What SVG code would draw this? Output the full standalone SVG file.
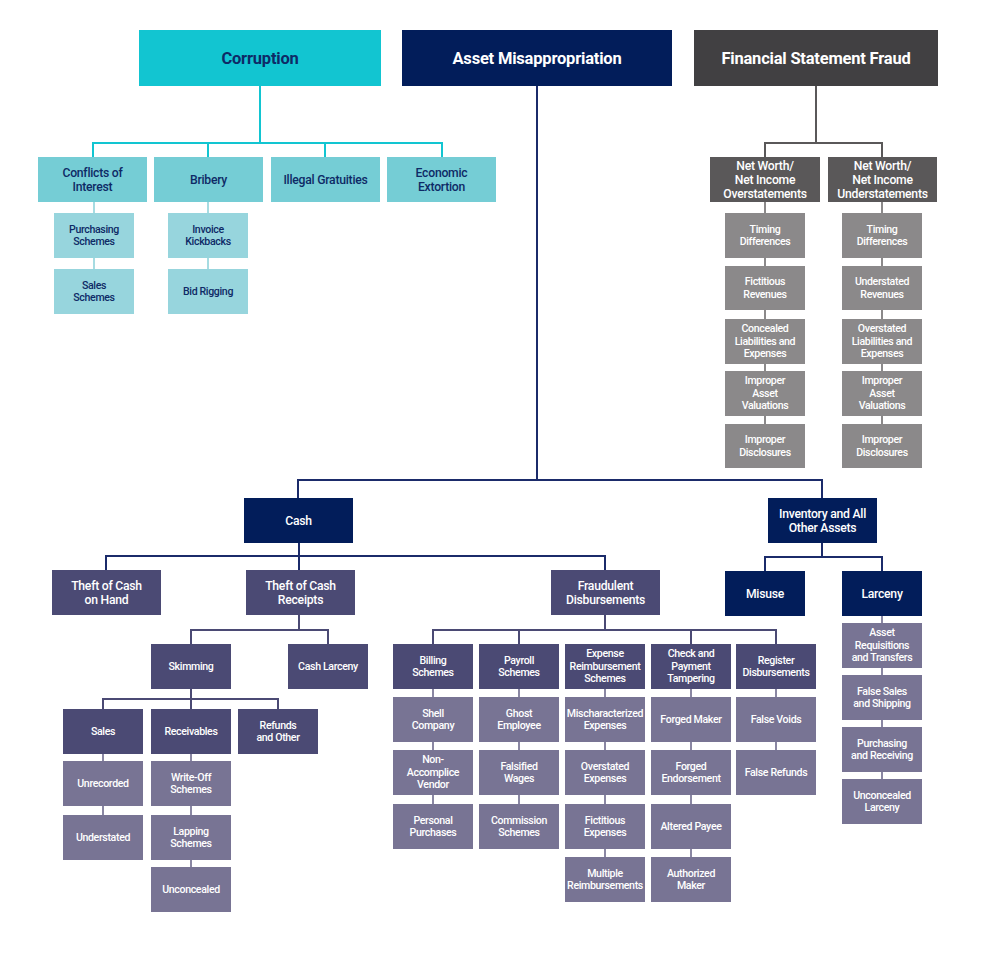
<svg xmlns="http://www.w3.org/2000/svg" width="1002" height="966" viewBox="0 0 1002 966">
<style>
text{font-family:Roboto,"Liberation Sans",sans-serif;text-anchor:middle}
.t{font-size:16.5px;font-weight:700;letter-spacing:-0.2px}
.h{font-size:12.2px;font-weight:500;letter-spacing:-0.25px}
.s{font-size:10.6px;font-weight:500;letter-spacing:-0.35px}
.dk{fill:#0E2A66}
.wh{fill:#ffffff}
.cy{fill:#12C5D1}.tm{fill:#75CDD5}.tl{fill:#97D5DD}
.nv{fill:#021D5A}.fg{fill:#414042}.ng{fill:#5A5859}.sg{fill:#8B898A}
.pd{fill:#4B4A74}.pl{fill:#787494}
.c{fill:none;stroke-width:2}
</style>
<rect width="1002" height="966" fill="#ffffff"/>
<g id="connectors">
<path class="c" stroke="#12C5D1" d="M260 86V143M93 157V143H442V157M208 143V157M325 143V157"/>
<path class="c" stroke="#A6DCE2" d="M94 202V213M94 258V269M208 202V213M208 258V269"/>
<path class="c" stroke="#5A5859" d="M816 86V143M765 157V143H882V157"/>
<path class="c" stroke="#8B898A" d="M765 202V213M765 258V266M765 310V319M765 364V371M765 416V424M882 202V213M882 258V266M882 310V319M882 364V371M882 416V424"/>
<path class="c" stroke="#1B2B6A" d="M537 86V480M298 498V480H822V498M822 543V557M765 571V557H882V571"/>
<path class="c" stroke="#1B2B6A" d="M299 543V570M106 570V556H605V570"/>
<path class="c" stroke="#4B4A74" d="M299 615V630M191 644V630H328V644M191 689V709M103 709V699H278V709M605 615V630M433 644V630H776V644M519 630V644M691 630V644"/>
<path class="c" stroke="#8A87A3" d="M103 754V761M103 806V815M191 754V761M191 806V815M191 860V867M433 689V697M433 742V750M433 795V804M519 689V697M519 742V750M519 795V804M605 689V697M605 742V750M605 795V804M605 849V857M691 689V697M691 742V750M691 795V804M691 849V857M776 689V697M776 742V750M882 616V623M882 668V675M882 720V727M882 772V779"/>
</g>
<g id="corruption"><rect class="cy" x="139" y="30" width="242" height="56"/><text class="t dk" x="260" y="63.5">Corruption</text></g>
<g id="asset-misappropriation"><rect class="nv" x="402" y="30" width="270" height="56"/><text class="t wh" x="537" y="63.5">Asset Misappropriation</text></g>
<g id="financial-statement-fraud"><rect class="fg" x="694" y="30" width="244" height="56"/><text class="t wh" x="816" y="63.5">Financial Statement Fraud</text></g>

<g id="conflicts-of-interest"><rect class="tm" x="38" y="157" width="109" height="45"/><text class="h dk" x="92.5"><tspan x="92.5" y="176.7">Conflicts of</tspan><tspan x="92.5" y="190.7">Interest</tspan></text></g>
<g id="bribery"><rect class="tm" x="154" y="157" width="109" height="45"/><text class="h dk" x="208.5" y="183.7">Bribery</text></g>
<g id="illegal-gratuities"><rect class="tm" x="271" y="157" width="109" height="45"/><text class="h dk" x="325.5" y="183.7">Illegal Gratuities</text></g>
<g id="economic-extortion"><rect class="tm" x="387" y="157" width="109" height="45"/><text class="h dk" x="441.5"><tspan x="441.5" y="176.7">Economic</tspan><tspan x="441.5" y="190.7">Extortion</tspan></text></g>
<g id="purchasing-schemes"><rect class="tl" x="54" y="213" width="80" height="45"/><text class="s dk"><tspan x="94" y="232.7">Purchasing</tspan><tspan x="94" y="245.2">Schemes</tspan></text></g>
<g id="sales-schemes"><rect class="tl" x="54" y="269" width="80" height="45"/><text class="s dk"><tspan x="94" y="288.7">Sales</tspan><tspan x="94" y="301.2">Schemes</tspan></text></g>
<g id="invoice-kickbacks"><rect class="tl" x="168" y="213" width="80" height="45"/><text class="s dk"><tspan x="208" y="232.7">Invoice</tspan><tspan x="208" y="245.2">Kickbacks</tspan></text></g>
<g id="bid-rigging"><rect class="tl" x="168" y="269" width="80" height="45"/><text class="s dk" x="208" y="295.2">Bid Rigging</text></g>

<g id="nw-over"><rect class="ng" x="710" y="157" width="110" height="45"/><text class="h wh"><tspan x="765" y="169.7">Net Worth/</tspan><tspan x="765" y="183.7">Net Income</tspan><tspan x="765" y="197.7">Overstatements</tspan></text></g>
<g id="nw-under"><rect class="ng" x="828" y="157" width="109" height="45"/><text class="h wh"><tspan x="882.5" y="169.7">Net Worth/</tspan><tspan x="882.5" y="183.7">Net Income</tspan><tspan x="882.5" y="197.7">Understatements</tspan></text></g>
<g id="o-timing"><rect class="sg" x="725" y="213" width="80" height="45"/><text class="s wh"><tspan x="765" y="232.7">Timing</tspan><tspan x="765" y="245.2">Differences</tspan></text></g>
<g id="o-fictitious"><rect class="sg" x="725" y="266" width="80" height="44"/><text class="s wh"><tspan x="765" y="285.2">Fictitious</tspan><tspan x="765" y="297.7">Revenues</tspan></text></g>
<g id="o-concealed"><rect class="sg" x="725" y="319" width="80" height="45"/><text class="s wh"><tspan x="765" y="332.4">Concealed</tspan><tspan x="765" y="344.9">Liabilities and</tspan><tspan x="765" y="357.4">Expenses</tspan></text></g>
<g id="o-valuations"><rect class="sg" x="725" y="371" width="80" height="45"/><text class="s wh"><tspan x="765" y="384.4">Improper</tspan><tspan x="765" y="396.9">Asset</tspan><tspan x="765" y="409.4">Valuations</tspan></text></g>
<g id="o-disclosures"><rect class="sg" x="725" y="424" width="80" height="44"/><text class="s wh"><tspan x="765" y="443.2">Improper</tspan><tspan x="765" y="455.7">Disclosures</tspan></text></g>
<g id="u-timing"><rect class="sg" x="842" y="213" width="80" height="45"/><text class="s wh"><tspan x="882" y="232.7">Timing</tspan><tspan x="882" y="245.2">Differences</tspan></text></g>
<g id="u-understated"><rect class="sg" x="842" y="266" width="80" height="44"/><text class="s wh"><tspan x="882" y="285.2">Understated</tspan><tspan x="882" y="297.7">Revenues</tspan></text></g>
<g id="u-overstated"><rect class="sg" x="842" y="319" width="80" height="45"/><text class="s wh"><tspan x="882" y="332.4">Overstated</tspan><tspan x="882" y="344.9">Liabilities and</tspan><tspan x="882" y="357.4">Expenses</tspan></text></g>
<g id="u-valuations"><rect class="sg" x="842" y="371" width="80" height="45"/><text class="s wh"><tspan x="882" y="384.4">Improper</tspan><tspan x="882" y="396.9">Asset</tspan><tspan x="882" y="409.4">Valuations</tspan></text></g>
<g id="u-disclosures"><rect class="sg" x="842" y="424" width="80" height="44"/><text class="s wh"><tspan x="882" y="443.2">Improper</tspan><tspan x="882" y="455.7">Disclosures</tspan></text></g>

<g id="cash"><rect class="nv" x="244" y="498" width="109" height="45"/><text class="h wh" x="298.5" y="524.7">Cash</text></g>
<g id="inventory"><rect class="nv" x="768" y="498" width="109" height="45"/><text class="h wh"><tspan x="822.5" y="517.7">Inventory and All</tspan><tspan x="822.5" y="531.7">Other Assets</tspan></text></g>
<g id="theft-cash-on-hand"><rect class="pd" x="52" y="570" width="109" height="45"/><text class="h wh"><tspan x="106.5" y="589.7">Theft of Cash</tspan><tspan x="106.5" y="603.7">on Hand</tspan></text></g>
<g id="theft-cash-receipts"><rect class="pd" x="246" y="570" width="109" height="45"/><text class="h wh"><tspan x="300.5" y="589.7">Theft of Cash</tspan><tspan x="300.5" y="603.7">Receipts</tspan></text></g>
<g id="fraudulent-disbursements"><rect class="pd" x="551" y="570" width="109" height="45"/><text class="h wh"><tspan x="605.5" y="589.7">Fraudulent</tspan><tspan x="605.5" y="603.7">Disbursements</tspan></text></g>
<g id="skimming"><rect class="pd" x="151" y="644" width="80" height="45"/><text class="s wh" x="191" y="670.2">Skimming</text></g>
<g id="cash-larceny"><rect class="pd" x="288" y="644" width="80" height="45"/><text class="s wh" x="328" y="670.2">Cash Larceny</text></g>
<g id="sales"><rect class="pd" x="63" y="709" width="80" height="45"/><text class="s wh" x="103" y="735.2">Sales</text></g>
<g id="receivables"><rect class="pd" x="151" y="709" width="80" height="45"/><text class="s wh" x="191" y="735.2">Receivables</text></g>
<g id="refunds-other"><rect class="pd" x="238" y="709" width="80" height="45"/><text class="s wh"><tspan x="278" y="728.7">Refunds</tspan><tspan x="278" y="741.2">and Other</tspan></text></g>
<g id="unrecorded"><rect class="pl" x="63" y="761" width="80" height="45"/><text class="s wh" x="103" y="787.2">Unrecorded</text></g>
<g id="understated"><rect class="pl" x="63" y="815" width="80" height="45"/><text class="s wh" x="103" y="841.2">Understated</text></g>
<g id="write-off"><rect class="pl" x="151" y="761" width="80" height="45"/><text class="s wh"><tspan x="191" y="780.7">Write-Off</tspan><tspan x="191" y="793.2">Schemes</tspan></text></g>
<g id="lapping"><rect class="pl" x="151" y="815" width="80" height="45"/><text class="s wh"><tspan x="191" y="834.7">Lapping</tspan><tspan x="191" y="847.2">Schemes</tspan></text></g>
<g id="unconcealed"><rect class="pl" x="151" y="867" width="80" height="45"/><text class="s wh" x="191" y="893.2">Unconcealed</text></g>

<g id="billing"><rect class="pd" x="393" y="644" width="80" height="45"/><text class="s wh"><tspan x="433" y="663.7">Billing</tspan><tspan x="433" y="676.2">Schemes</tspan></text></g>
<g id="payroll"><rect class="pd" x="479" y="644" width="80" height="45"/><text class="s wh"><tspan x="519" y="663.7">Payroll</tspan><tspan x="519" y="676.2">Schemes</tspan></text></g>
<g id="expense"><rect class="pd" x="565" y="644" width="80" height="45"/><text class="s wh"><tspan x="605" y="657.4">Expense</tspan><tspan x="605" y="669.9">Reimbursement</tspan><tspan x="605" y="682.4">Schemes</tspan></text></g>
<g id="check"><rect class="pd" x="651" y="644" width="80" height="45"/><text class="s wh"><tspan x="691" y="657.4">Check and</tspan><tspan x="691" y="669.9">Payment</tspan><tspan x="691" y="682.4">Tampering</tspan></text></g>
<g id="register"><rect class="pd" x="736" y="644" width="80" height="45"/><text class="s wh"><tspan x="776" y="663.7">Register</tspan><tspan x="776" y="676.2">Disbursements</tspan></text></g>
<g id="shell"><rect class="pl" x="393" y="697" width="80" height="45"/><text class="s wh"><tspan x="433" y="716.7">Shell</tspan><tspan x="433" y="729.2">Company</tspan></text></g>
<g id="non-accomplice"><rect class="pl" x="393" y="750" width="80" height="45"/><text class="s wh"><tspan x="433" y="763.4">Non-</tspan><tspan x="433" y="775.9">Accomplice</tspan><tspan x="433" y="788.4">Vendor</tspan></text></g>
<g id="personal"><rect class="pl" x="393" y="804" width="80" height="45"/><text class="s wh"><tspan x="433" y="823.7">Personal</tspan><tspan x="433" y="836.2">Purchases</tspan></text></g>
<g id="ghost"><rect class="pl" x="479" y="697" width="80" height="45"/><text class="s wh"><tspan x="519" y="716.7">Ghost</tspan><tspan x="519" y="729.2">Employee</tspan></text></g>
<g id="falsified"><rect class="pl" x="479" y="750" width="80" height="45"/><text class="s wh"><tspan x="519" y="769.7">Falsified</tspan><tspan x="519" y="782.2">Wages</tspan></text></g>
<g id="commission"><rect class="pl" x="479" y="804" width="80" height="45"/><text class="s wh"><tspan x="519" y="823.7">Commission</tspan><tspan x="519" y="836.2">Schemes</tspan></text></g>
<g id="mischaracterized"><rect class="pl" x="565" y="697" width="80" height="45"/><text class="s wh"><tspan x="605" y="716.7">Mischaracterized</tspan><tspan x="605" y="729.2">Expenses</tspan></text></g>
<g id="overstated-exp"><rect class="pl" x="565" y="750" width="80" height="45"/><text class="s wh"><tspan x="605" y="769.7">Overstated</tspan><tspan x="605" y="782.2">Expenses</tspan></text></g>
<g id="fictitious-exp"><rect class="pl" x="565" y="804" width="80" height="45"/><text class="s wh"><tspan x="605" y="823.7">Fictitious</tspan><tspan x="605" y="836.2">Expenses</tspan></text></g>
<g id="multiple"><rect class="pl" x="565" y="857" width="80" height="45"/><text class="s wh"><tspan x="605" y="876.7">Multiple</tspan><tspan x="605" y="889.2">Reimbursements</tspan></text></g>
<g id="forged-maker"><rect class="pl" x="651" y="697" width="80" height="45"/><text class="s wh" x="691" y="723.2">Forged Maker</text></g>
<g id="forged-endorsement"><rect class="pl" x="651" y="750" width="80" height="45"/><text class="s wh"><tspan x="691" y="769.7">Forged</tspan><tspan x="691" y="782.2">Endorsement</tspan></text></g>
<g id="altered-payee"><rect class="pl" x="651" y="804" width="80" height="45"/><text class="s wh" x="691" y="830.2">Altered Payee</text></g>
<g id="authorized-maker"><rect class="pl" x="651" y="857" width="80" height="45"/><text class="s wh"><tspan x="691" y="876.7">Authorized</tspan><tspan x="691" y="889.2">Maker</tspan></text></g>
<g id="false-voids"><rect class="pl" x="736" y="697" width="80" height="45"/><text class="s wh" x="776" y="723.2">False Voids</text></g>
<g id="false-refunds"><rect class="pl" x="736" y="750" width="80" height="45"/><text class="s wh" x="776" y="776.2">False Refunds</text></g>

<g id="misuse"><rect class="nv" x="725" y="571" width="80" height="45"/><text class="h wh" x="765" y="597.7">Misuse</text></g>
<g id="larceny"><rect class="nv" x="842" y="571" width="80" height="45"/><text class="h wh" x="882" y="597.7">Larceny</text></g>
<g id="asset-requisitions"><rect class="pl" x="842" y="623" width="80" height="45"/><text class="s wh"><tspan x="882" y="636.4">Asset</tspan><tspan x="882" y="648.9">Requisitions</tspan><tspan x="882" y="661.4">and Transfers</tspan></text></g>
<g id="false-sales"><rect class="pl" x="842" y="675" width="80" height="45"/><text class="s wh"><tspan x="882" y="694.7">False Sales</tspan><tspan x="882" y="707.2">and Shipping</tspan></text></g>
<g id="purchasing-receiving"><rect class="pl" x="842" y="727" width="80" height="45"/><text class="s wh"><tspan x="882" y="746.7">Purchasing</tspan><tspan x="882" y="759.2">and Receiving</tspan></text></g>
<g id="unconcealed-larceny"><rect class="pl" x="842" y="779" width="80" height="45"/><text class="s wh"><tspan x="882" y="798.7">Unconcealed</tspan><tspan x="882" y="811.2">Larceny</tspan></text></g>
</svg>
